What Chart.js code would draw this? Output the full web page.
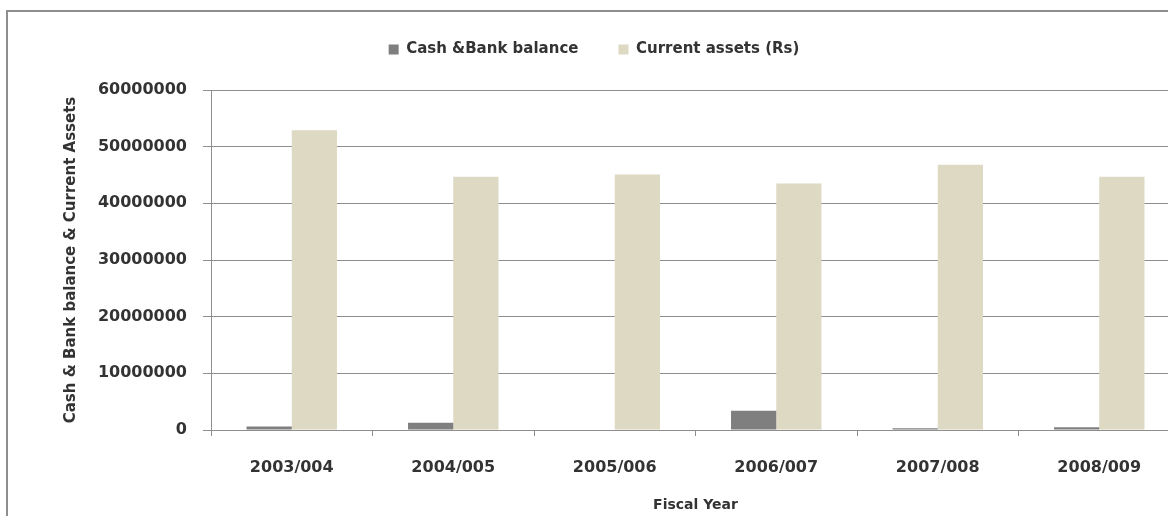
<!DOCTYPE html>
<html lang="en">
<head>
  <meta charset="UTF-8" />
  <title>Cash &amp; Bank balance and Current assets</title>
  <script src="https://cdn.jsdelivr.net/npm/chart.js"></script>
  <style>
    html, body { margin: 0; padding: 0; background: #fff; overflow: hidden; width: 1168px; height: 516px; }
    .frame {
      position: absolute; left: 6px; top: 10px;
      border-top: 2px solid #8e8e8e; border-left: 2px solid #8e8e8e;
      background: #fff;
    }
    canvas { display: block; }
  </style>
</head>
<body>
  <div class="frame">
    <canvas id="assetChart" width="1194" height="510"></canvas>
  </div>

  <script>
    // Fiscal years and the two series (Rs)
    const fiscalYears = ['2003/004', '2004/005', '2005/006', '2006/007', '2007/008', '2008/009'];
    const cashBank = [600000, 1300000, 80000, 3400000, 300000, 500000];
    const currentAssets = [52900000, 44700000, 45100000, 43500000, 46800000, 44700000];

    const axisGray = '#8e8e8e';
    const textColor = '#333333';

    Chart.defaults.font.family = '"DejaVu Sans", sans-serif';
    Chart.defaults.font.weight = 'bold';
    Chart.defaults.color = textColor;

    // keep the plot top fixed below the legend
    const legendHeight = {
      id: 'legendHeight',
      beforeInit(chart) {
        const fit = chart.legend.fit;
        chart.legend.fit = function () {
          fit.call(this);
          this.height = 88;
        };
      }
    };

    const ctx = document.getElementById('assetChart').getContext('2d');
    const assetChart = new Chart(ctx, {
      type: 'bar',
      data: {
        labels: fiscalYears,
        datasets: [
          {
            label: 'Cash &Bank balance',
            data: cashBank,
            backgroundColor: '#7f7f7f',
            borderWidth: 0
          },
          {
            label: 'Current assets (Rs)',
            data: currentAssets,
            backgroundColor: '#ddd9c3',
            borderWidth: 0
          }
        ]
      },
      options: {
        responsive: false,
        animation: false,
        layout: { padding: { top: -10, right: 22, bottom: 0, left: 0 } },
        datasets: {
          bar: { categoryPercentage: 0.56, barPercentage: 1.0 }
        },
        plugins: {
          legend: {
            position: 'top',
            labels: {
              boxWidth: 10,
              boxHeight: 10,
              padding: 40,
              font: { size: 15, weight: 'bold' }
            }
          },
          tooltip: { enabled: false }
        },
        scales: {
          x: {
            afterFit(scale) { scale.height = 92; },
            grid: {
              display: true,
              drawOnChartArea: false,
              drawTicks: true,
              tickLength: 6,
              color: axisGray,
              offset: true
            },
            border: { display: true, color: axisGray, width: 1 },
            ticks: { padding: 22, font: { size: 16, weight: 'bold' } },
            title: {
              display: true,
              text: 'Fiscal Year',
              font: { size: 14, weight: 'bold' },
              padding: { top: 0, bottom: 8 }
            }
          },
          y: {
            min: 0,
            max: 60000000,
            afterFit(scale) { scale.width = 203; },
            grid: {
              color: axisGray,
              lineWidth: 1,
              drawTicks: true,
              tickLength: 8
            },
            border: { display: true, color: axisGray, width: 1 },
            ticks: {
              stepSize: 10000000,
              padding: 16,
              font: { size: 16, weight: 'bold' },
              callback: (value) => String(value)
            },
            title: {
              display: true,
              text: 'Cash & Bank balance & Current Assets',
              font: { size: 15, weight: 'bold' },
              padding: { top: 54, bottom: 0 }
            }
          }
        }
      },
      plugins: [legendHeight]
    });
  </script>
</body>
</html>
